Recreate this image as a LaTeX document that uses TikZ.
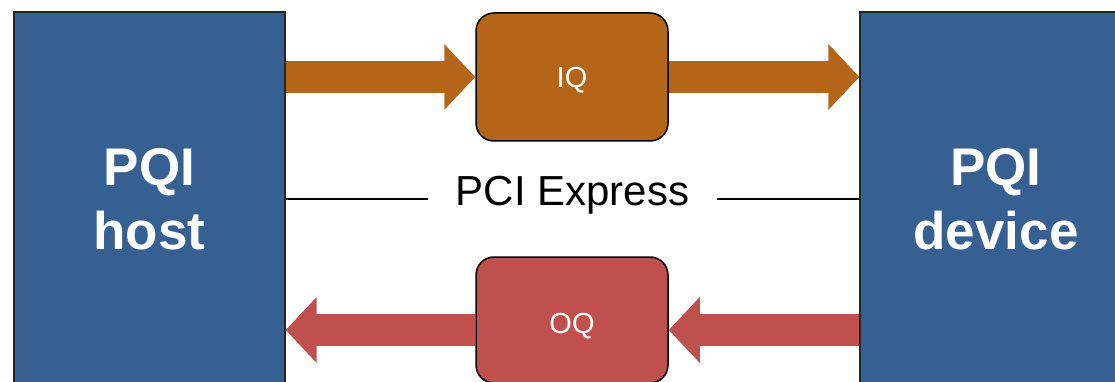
\documentclass[tikz,border=0pt]{standalone}
\usepackage{fontspec}
\setmainfont{Liberation Sans}
\usetikzlibrary{arrows.meta}
\definecolor{pqiblue}{HTML}{366092}
\definecolor{iqorange}{HTML}{B46518}
\definecolor{oqred}{HTML}{C0504D}
\tikzset{
  endpoint/.style={draw=black!85, line width=1.2pt, fill=pqiblue, text=white,
    font=\fontsize{53}{64}\selectfont\bfseries, align=center,
    minimum height=374pt, inner sep=0pt},
  queue/.style={draw=black, line width=1.5pt, rounded corners=18pt, text=white,
    font=\fontsize{29}{34}\selectfont, minimum width=192pt, inner sep=0pt,
    text depth=0pt},
  blockarrow/.style={line width=32pt, -{Triangle[length=31pt,width=64pt]}},
  busline/.style={line width=2.4pt, black},
}
\begin{document}
\begin{tikzpicture}[x=1pt,y=-1pt]
\useasboundingbox (0,0) rectangle (1115,382);
\clip (0,0) rectangle (1115,382);
\node[endpoint, minimum width=271pt] (host) at (149.5,199) {PQI\\host};
\node[endpoint, minimum width=272pt] (device) at (996,199) {PQI\\device};
\node[queue, fill=iqorange, minimum height=128pt, text height=22pt] (iq) at (572,77) {IQ};
\node[queue, fill=oqred, minimum height=126pt, text height=27pt] (oq) at (572,320) {OQ};
\draw[blockarrow, iqorange] (host.east |- iq) -- (iq.west);
\draw[blockarrow, iqorange] (iq.east) -- (device.west |- iq);
\draw[blockarrow, oqred] (device.west |- 0,330) -- (oq.east |- 0,330);
\draw[blockarrow, oqred] (oq.west |- 0,330) -- (host.east |- 0,330);
\node[anchor=base, font=\fontsize{42}{48}\selectfont] (pci) at (572.5,205) {PCI Express};
\coordinate (lineL) at (428,199);
\coordinate (lineR) at (717,199);
\draw[busline] (host.east |- lineL) -- (lineL);
\draw[busline] (lineR) -- (device.west |- lineR);
\end{tikzpicture}
\end{document}
